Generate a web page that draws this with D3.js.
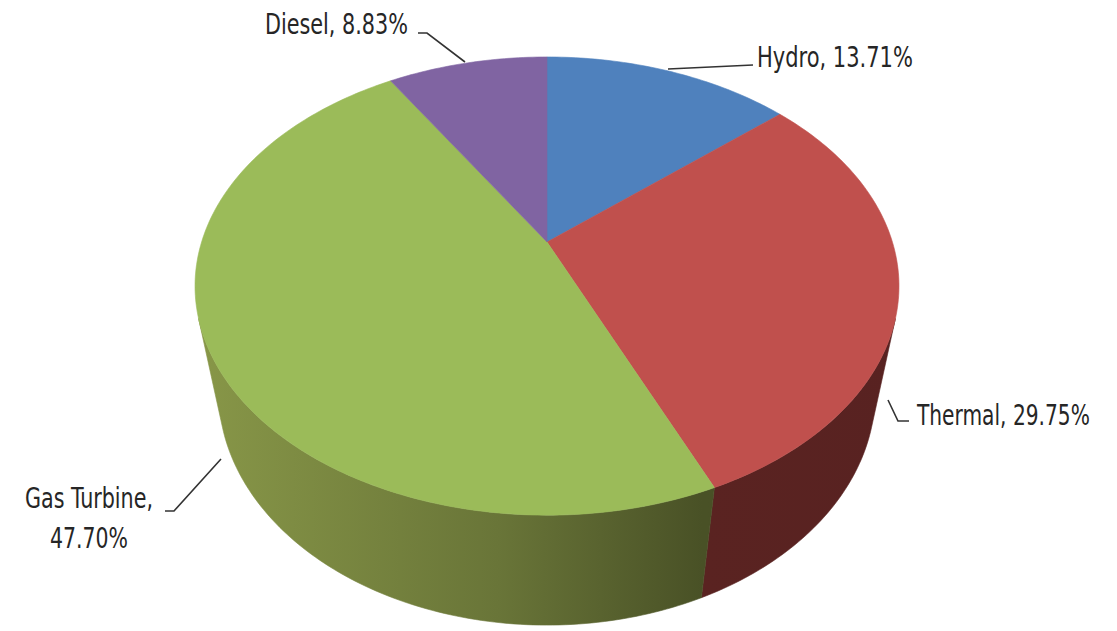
<!DOCTYPE html>
<html>
<head>
<meta charset="utf-8">
<script src="https://cdn.jsdelivr.net/npm/d3@7/dist/d3.min.js"></script>
<style>
  html, body { margin: 0; padding: 0; background: #ffffff; }
  svg { display: block; }
</style>
</head>
<body>
<svg id="chart" width="1117" height="631"></svg>
<script>
// ---- data ----
const categories = ["Hydro", "Thermal", "Gas Turbine", "Diesel"];
const values = [13.71, 29.75, 47.70, 8.83];
const valueLabels = ["13.71%", "29.75%", "47.70%", "8.83%"];
const colors = ["#4F81BD", "#C0504D", "#9BBB59", "#8064A2"];

// ---- layout (3D projection of a cylinder) ----
const W = 1117, H = 631;
const cx = 547, cy = 242;          // screen position of pie apex
const F = 1381.6;                  // focal scale
const Dist = 4.0;                  // camera distance (in radii)
const phi = 39.7 * Math.PI / 180;  // camera elevation
const depth = 0.434;               // cylinder thickness (in radii)

function project(a, Y) {
  const X = Math.sin(a), Z = -Math.cos(a);
  const yc = Y * Math.cos(phi) - Z * Math.sin(phi);
  const d = Dist - (Y * Math.sin(phi) + Z * Math.cos(phi));
  return [cx + F * X / d, cy - F * yc / d];
}

const svg = d3.select("#chart");
svg.append("rect").attr("width", W).attr("height", H).attr("fill", "#fff");

const pie = d3.pie().sort(null).value(d => d.value);
const arcs = pie(categories.map((c, i) => ({ name: c, value: values[i], color: colors[i], label: valueLabels[i] })));

const line = d3.line();
const defs = svg.append("defs");

// visible range of the outer wall
const zMin = 1 / (Dist * Math.cos(phi));
const aL = Math.acos(-zMin), aR = 2 * Math.PI - Math.acos(-zMin);

function arcPts(a0, a1, Y, n) {
  const pts = [];
  for (let i = 0; i <= n; i++) pts.push(project(a0 + (a1 - a0) * i / n, Y));
  return pts;
}

// wall shading gradients
const shadeStops = [[0, 0.88], [0.43, 0.68], [0.72, 0.47], [1, 0.46]];
arcs.forEach((d, i) => {
  const g = defs.append("linearGradient")
    .attr("id", "wall" + i)
    .attr("gradientUnits", "userSpaceOnUse")
    .attr("x1", 195).attr("x2", 900).attr("y1", 0).attr("y2", 0);
  const base = d3.rgb(d.data.color);
  shadeStops.forEach(([o, k]) => {
    g.append("stop").attr("offset", o)
      .attr("stop-color", d3.rgb(base.r * k, base.g * k * 0.92, base.b * k * 0.92).formatHex());
  });
});

// walls
const gWalls = svg.append("g");
arcs.forEach((d, i) => {
  const a0 = Math.max(d.startAngle, aL), a1 = Math.min(d.endAngle, aR);
  if (a1 <= a0) return;
  const n = Math.max(4, Math.ceil((a1 - a0) * 60));
  const top = arcPts(a0, a1, 0, n);
  const bot = arcPts(a1, a0, -depth, n);
  gWalls.append("path")
    .attr("d", line(top.concat(bot)) + "Z")
    .attr("fill", `url(#wall${i})`)
    .attr("stroke", `url(#wall${i})`)
    .attr("stroke-width", 0.6);
});

// top faces
const gTop = svg.append("g");
arcs.forEach((d) => {
  const n = Math.max(4, Math.ceil((d.endAngle - d.startAngle) * 60));
  const pts = [[cx, cy]].concat(arcPts(d.startAngle, d.endAngle, 0, n));
  gTop.append("path")
    .attr("d", line(pts) + "Z")
    .attr("fill", d.data.color)
    .attr("stroke", d.data.color)
    .attr("stroke-width", 0.6)
    .attr("stroke-linejoin", "round");
});

// ---- labels ----
const labelLayout = {
  "Hydro":       { lines: [[757, 67, 156]], leader: [[668, 69], [753, 65]] },
  "Thermal":     { lines: [[917, 425, 173]], leader: [[888, 400], [898, 421], [909, 421]] },
  "Gas Turbine": { lines: [[25, 508, 128], [50, 548, 78]], leader: [[165, 511], [174, 511], [221, 459]] },
  "Diesel":      { lines: [[265, 34, 143]], leader: [[418, 33], [427, 33], [465, 62]] }
};

const gLab = svg.append("g")
  .attr("font-family", "'Liberation Sans Narrow', 'Arial Narrow', 'DejaVu Sans Condensed', 'Liberation Sans', sans-serif")
  .attr("font-size", 28)
  .attr("fill", "#262626");

arcs.forEach((d) => {
  const L = labelLayout[d.data.name];
  const texts = L.lines.length === 2
    ? [d.data.name + ",", d.data.label]
    : [d.data.name + ", " + d.data.label];
  texts.forEach((t, j) => {
    const [x, y, w] = L.lines[j];
    const txt = gLab.append("text")
      .attr("x", 0).attr("y", 0)
      .text(t);
    const natural = txt.node().getComputedTextLength();
    const sx = w / natural;
    txt.attr("transform", `translate(${x},${y}) scale(${sx},1)`);
  });
  svg.append("path")
    .attr("d", line(L.leader))
    .attr("fill", "none")
    .attr("stroke", "#333")
    .attr("stroke-width", 1.6);
});
</script>
</body>
</html>
